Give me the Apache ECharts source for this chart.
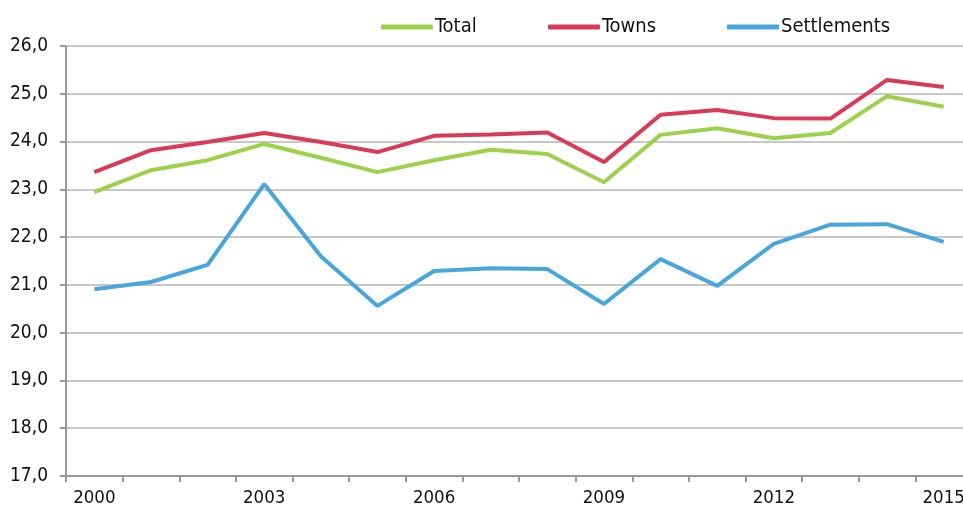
<!DOCTYPE html>
<html>
<head>
<meta charset="utf-8">
<script src="https://cdn.jsdelivr.net/npm/echarts@6/dist/echarts.min.js"></script>
<style>
html, body { margin: 0; padding: 0; background: #fff; }
#chart { width: 963px; height: 511px; }
</style>
</head>
<body>
<div id="chart"></div>
<script>
// years on the x axis
const years = ['2000', '2001', '2002', '2003', '2004', '2005', '2006', '2007',
  '2008', '2009', '2010', '2011', '2012', '2013', '2014', '2015'];
// values
const total = [22.94, 23.40, 23.61, 23.95, 23.66, 23.36, 23.61, 23.83,
  23.74, 23.15, 24.14, 24.28, 24.07, 24.18, 24.95, 24.73];
const towns = [23.36, 23.82, 23.99, 24.18, 23.99, 23.78, 24.12, 24.15,
  24.19, 23.57, 24.56, 24.66, 24.49, 24.48, 25.29, 25.14];
const settlements = [20.91, 21.06, 21.42, 23.11, 21.60, 20.56, 21.29, 21.35,
  21.33, 20.60, 21.54, 20.98, 21.86, 22.26, 22.27, 21.90];

const font = "'DejaVu Sans Condensed', 'Liberation Sans Narrow', sans-serif";
const colors = { Total: '#9bd14b', Towns: '#d93a56', Settlements: '#48a6dd' };

function legendAt(name, left) {
  return {
    data: [name],
    left: left,
    top: 17,
    padding: 0,
    icon: 'roundRect',
    itemWidth: 52,
    itemHeight: 5,
    itemGap: 0,
    textStyle: { fontFamily: font, fontSize: 20, color: '#111', padding: [0, 0, 0, -3] }
  };
}

function line(name, data) {
  return {
    name: name,
    type: 'line',
    data: data,
    symbol: 'none',
    color: colors[name],
    lineStyle: { width: 4, color: colors[name] }
  };
}

let myChart = echarts.init(document.getElementById('chart'));
myChart.setOption({
  animation: false,
  textStyle: { fontFamily: font },
  legend: [legendAt('Total', 381), legendAt('Towns', 548), legendAt('Settlements', 727)],
  // plot runs a little past the right edge, as in the picture
  grid: { left: 66, width: 906, top: 46, bottom: 35, containLabel: false, outerBoundsMode: 'none' },
  xAxis: {
    type: 'category',
    data: years,
    boundaryGap: true,
    axisLine: { lineStyle: { color: '#999', width: 2 } },
    axisTick: { show: true, interval: 0, length: 6, lineStyle: { color: '#999', width: 2 } },
    axisLabel: { interval: 2, fontFamily: font, fontSize: 18.5, color: '#111', margin: 13 },
    splitLine: { show: false }
  },
  yAxis: {
    type: 'value',
    min: 17,
    max: 26,
    interval: 1,
    axisLine: { show: true, lineStyle: { color: '#999', width: 2 } },
    axisTick: { show: true, length: 6, lineStyle: { color: '#999', width: 2 } },
    axisLabel: {
      fontFamily: font, fontSize: 19, color: '#111', margin: 18,
      formatter: v => v.toFixed(1).replace('.', ',')
    },
    splitLine: { lineStyle: { color: '#c8c8c8', width: 2 } }
  },
  series: [
    line('Total', total),
    line('Towns', towns),
    line('Settlements', settlements)
  ]
});
</script>
</body>
</html>
